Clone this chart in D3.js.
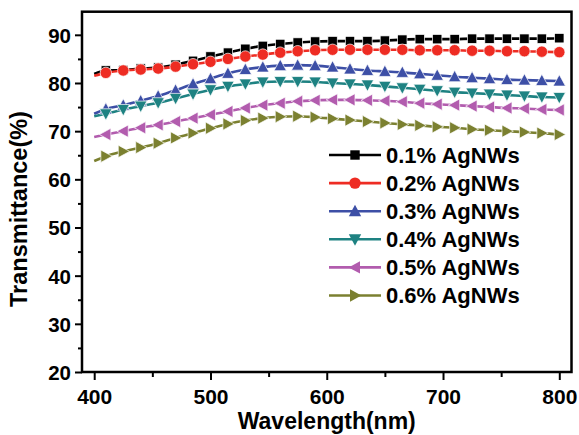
<!DOCTYPE html>
<html>
<head>
<meta charset="utf-8">
<script src="https://cdn.jsdelivr.net/npm/d3@7"></script>
<style>
  body { margin: 0; background: #fff; }
  svg { display: block; }
  text { font-family: Arial, "Liberation Sans", sans-serif; font-weight: bold; }
</style>
</head>
<body>
<div id="chart"></div>
<script>
// wavelength (nm); first point has no marker, markers every 15 nm from 410
const wavelengths = [400, 410, 425, 440, 455, 470, 485, 500, 515, 530, 545, 560, 575, 590,
  605, 620, 635, 650, 665, 680, 695, 710, 725, 740, 755, 770, 785, 800]

const seriesNames = ['0.1% AgNWs', '0.2% AgNWs', '0.3% AgNWs', '0.4% AgNWs', '0.5% AgNWs', '0.6% AgNWs']

const t01 = [81.9, 82.6, 82.7, 83.0, 83.2, 83.8, 84.6, 85.5, 86.3, 87.1, 87.7, 88.1, 88.4, 88.6,
  88.7, 88.7, 88.7, 88.8, 89.0, 89.1, 89.1, 89.1, 89.2, 89.2, 89.2, 89.2, 89.2, 89.3]
const t02 = [81.5, 82.1, 82.6, 82.8, 83.0, 83.4, 83.9, 84.4, 85.0, 85.5, 85.9, 86.3, 86.6, 86.8,
  86.9, 86.9, 86.9, 86.9, 86.9, 86.8, 86.8, 86.8, 86.7, 86.7, 86.6, 86.6, 86.5, 86.4]
const t03 = [73.6, 74.6, 75.4, 76.3, 77.3, 78.5, 79.8, 80.9, 82.0, 82.8, 83.3, 83.6, 83.7, 83.6,
  83.3, 82.9, 82.6, 82.4, 82.2, 81.9, 81.6, 81.3, 81.1, 80.9, 80.7, 80.6, 80.5, 80.4]
const t04 = [73.1, 73.6, 74.5, 75.2, 75.9, 76.8, 77.7, 78.6, 79.3, 79.8, 80.2, 80.3, 80.3, 80.2,
  80.0, 79.8, 79.6, 79.3, 79.0, 78.7, 78.4, 78.1, 77.9, 77.7, 77.5, 77.3, 77.1, 77.0]
const t05 = [68.8, 69.3, 70.0, 70.7, 71.3, 72.0, 72.7, 73.4, 74.1, 74.8, 75.4, 75.8, 76.2, 76.4,
  76.5, 76.5, 76.4, 76.3, 76.1, 75.8, 75.6, 75.4, 75.2, 75.0, 74.8, 74.7, 74.5, 74.4]
const t06 = [63.8, 64.8, 65.8, 66.6, 67.5, 68.6, 69.6, 70.6, 71.5, 72.2, 72.7, 73.0, 73.1, 72.9,
  72.6, 72.3, 72.0, 71.7, 71.4, 71.2, 70.9, 70.7, 70.4, 70.2, 70.0, 69.8, 69.6, 69.3]

const seriesValues = [t01, t02, t03, t04, t05, t06]
const colors = ['#000000', '#ee2c23', '#3d4fa6', '#1e8282', '#b25cae', '#7b8030']
const shapes = ['square', 'circle', 'up', 'down', 'left', 'right']

const xTicks = [400, 500, 600, 700, 800]
const yTicks = [20, 30, 40, 50, 60, 70, 80, 90]

const width = 579
const height = 435
const plot = { left: 82, right: 571.5, top: 11.7, bottom: 372 }

const svg = d3.select('#chart').append('svg')
  .attr('width', width)
  .attr('height', height)

const x = d3.scaleLinear().domain([389.5, 810.5]).range([plot.left, plot.right])
const y = d3.scaleLinear().domain([20, 94.8]).range([plot.bottom, plot.top])

// 画标记
function marker (g, shape, color, edge) {
  const s = 5.6
  let p
  if (shape === 'square') {
    p = g.append('rect').attr('x', -4.7).attr('y', -4.7).attr('width', 9.4).attr('height', 9.4)
  } else if (shape === 'circle') {
    p = g.append('circle').attr('r', 5.7)
  } else {
    const pts = {
      up: [[0, -s - 0.8], [s + 0.6, s - 0.6], [-s - 0.6, s - 0.6]],
      down: [[0, s + 0.8], [s + 0.6, -s + 0.6], [-s - 0.6, -s + 0.6]],
      left: [[-s - 0.8, 0], [s - 0.6, -s - 0.6], [s - 0.6, s + 0.6]],
      right: [[s + 0.8, 0], [-s + 0.6, -s - 0.6], [-s + 0.6, s + 0.6]]
    }[shape]
    p = g.append('polygon').attr('points', pts.map(d => d.join(',')).join(' '))
  }
  p.attr('fill', color)
  if (edge) p.attr('stroke', '#fff').attr('stroke-width', 0.7)
  return p
}

// 坐标轴
const xAxis = d3.axisBottom(x).tickValues(xTicks).tickSize(8).tickFormat(d3.format('d'))
const xMinor = d3.axisBottom(x).tickValues([450, 550, 650, 750]).tickSize(5).tickFormat('')
const yAxis = d3.axisLeft(y).tickValues(yTicks).tickSize(7).tickFormat(d3.format('d'))
const yMinor = d3.axisLeft(y).tickValues([25, 35, 45, 55, 65, 75, 85]).tickSize(4).tickFormat('')

const gx = svg.append('g').attr('transform', `translate(0,${plot.bottom})`).call(xAxis)
svg.append('g').attr('transform', `translate(0,${plot.bottom})`).call(xMinor)
const gy = svg.append('g').attr('transform', `translate(${plot.left},0)`).call(yAxis)
svg.append('g').attr('transform', `translate(${plot.left},0)`).call(yMinor)

svg.selectAll('.domain').remove()
svg.selectAll('.tick line').attr('stroke', '#000').attr('stroke-width', 2)
gx.selectAll('.tick text').attr('font-size', 21).attr('fill', '#000').attr('dy', 0).attr('y', 32)
gy.selectAll('.tick text').attr('font-size', 20.5).attr('fill', '#000').attr('x', -11).attr('dy', '0.36em')

// 数据线
const line = d3.line()
  .x((d, i) => x(wavelengths[i]))
  .y(d => y(d))
  .curve(d3.curveMonotoneX)

seriesValues.forEach((vals, k) => {
  svg.append('path')
    .attr('d', line(vals))
    .attr('fill', 'none')
    .attr('stroke', colors[k])
    .attr('stroke-width', 2.6)
})

seriesValues.forEach((vals, k) => {
  vals.forEach((v, i) => {
    if (i === 0) return
    const g = svg.append('g').attr('transform', `translate(${x(wavelengths[i])},${y(v)})`)
    marker(g, shapes[k], colors[k], true)
  })
})

// 外框
svg.append('rect')
  .attr('x', plot.left)
  .attr('y', plot.top)
  .attr('width', plot.right - plot.left)
  .attr('height', plot.bottom - plot.top)
  .attr('fill', 'none')
  .attr('stroke', '#000')
  .attr('stroke-width', 2.5)

// 图例
const legend = svg.append('g')
seriesNames.forEach((name, k) => {
  const ly = 155 + k * 28.1
  legend.append('line')
    .attr('x1', 329).attr('x2', 381).attr('y1', ly).attr('y2', ly)
    .attr('stroke', colors[k]).attr('stroke-width', 2.6)
  marker(legend.append('g').attr('transform', `translate(355,${ly})`), shapes[k], colors[k], false)
  legend.append('text')
    .attr('x', 386).attr('y', ly)
    .attr('dy', '0.36em')
    .attr('font-size', 22)
    .attr('fill', '#000')
    .text(name)
})

// 标题
svg.append('text')
  .attr('x', (plot.left + plot.right) / 2)
  .attr('y', 429)
  .attr('text-anchor', 'middle')
  .attr('font-size', 23)
  .text('Wavelength(nm)')

svg.append('text')
  .attr('transform', 'translate(27,209) rotate(-90)')
  .attr('text-anchor', 'middle')
  .attr('font-size', 23.5)
  .text('Transmittance(%)')
</script>
</body>
</html>
